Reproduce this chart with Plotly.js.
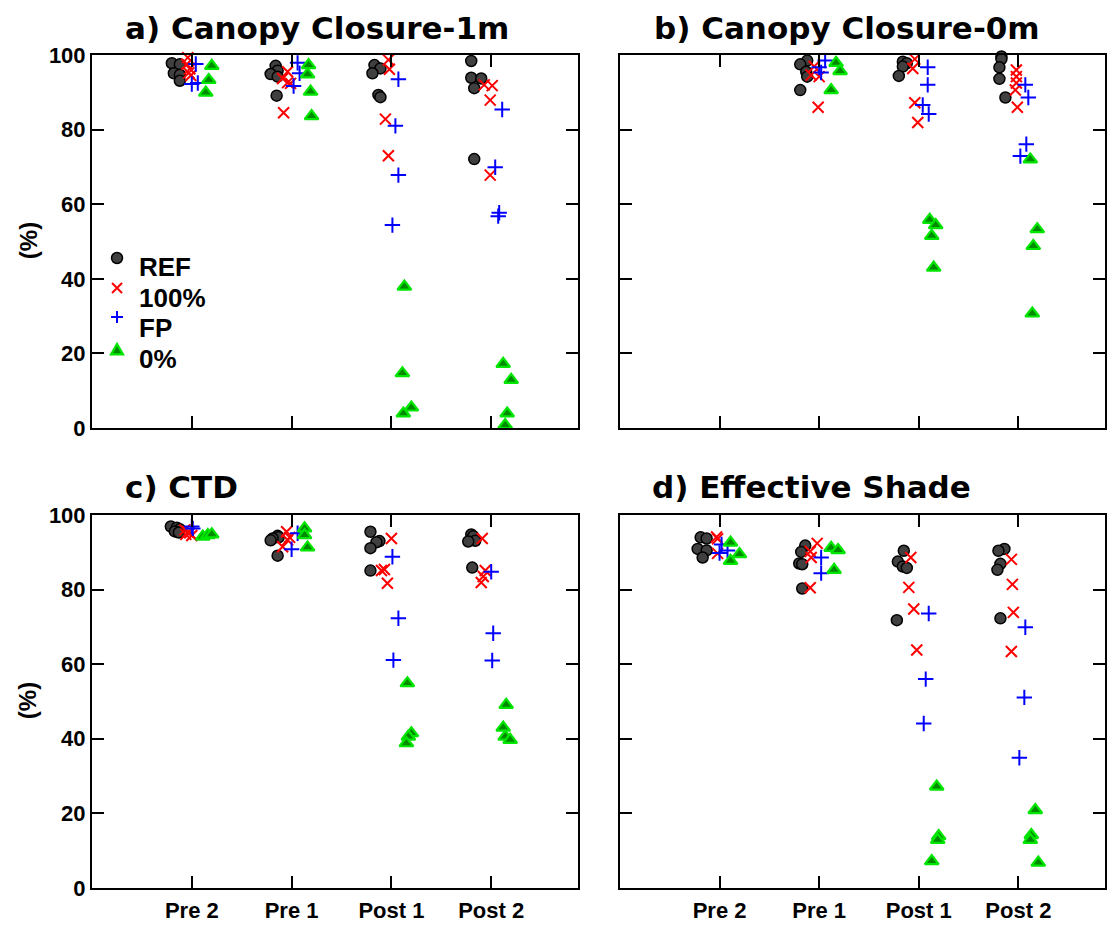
<!DOCTYPE html>
<html>
<head>
<meta charset="utf-8">
<script src="https://cdn.plot.ly/plotly-3.0.1.min.js"></script>
<style>html,body{margin:0;padding:0;background:#fff;}#chart{width:1114px;height:925px;}</style>
</head>
<body>
<div id="chart"></div>
<script>
// ---------- data ----------
const categories = ["Pre 2", "Pre 1", "Post 1", "Post 2"];
const groupNames = ["REF", "100%", "FP", "0%"];
const panelTitles = ["a) Canopy Closure-1m", "b) Canopy Closure-0m", "c) CTD", "d) Effective Shade"];
const yTickVals = [0, 20, 40, 60, 80, 100];

// Panel a) Canopy Closure-1m : one sub-array per category
const aRefVal = [[97.8,97.5,95.1,94.7,93.1],[97.1,95.8,94.9,94.2,89.1],[97.3,96.4,95.1,89.3,88.7],[98.4,93.9,93.7,91.1,72.1]];
const aRefDx  = [[-0.20,-0.12,-0.18,-0.12,-0.12],[-0.16,-0.14,-0.21,-0.14,-0.15],[-0.17,-0.11,-0.19,-0.13,-0.11],[-0.20,-0.20,-0.10,-0.17,-0.17]];
const a100Val = [[99.3,97.5,96.3,95.2,94.5],[95.5,93.7,92.6,92.4,84.5],[98.7,96.2,82.8,73.0],[92.0,91.8,87.9,67.8]];
const a100Dx  = [[-0.04,-0.05,-0.02,-0.03,-0.01],[-0.04,-0.09,-0.04,-0.01,-0.08],[-0.03,-0.02,-0.06,-0.03],[-0.07,0.01,-0.01,-0.01]];
const aFPVal  = [[97.6,92.2,92.5],[97.9,95.1,91.7],[93.5,81.0,67.8,54.4],[85.4,69.9,57.7,56.8]];
const aFPDx   = [[0.04,0.0,0.06],[0.06,0.08,0.02],[0.07,0.04,0.07,0.01],[0.11,0.04,0.08,0.07]];
const a0Val   = [[97.1,93.3,89.9],[97.3,94.8,90.2,83.6],[37.9,14.7,5.5,3.9],[17.2,12.9,3.9,0.8]];
const a0Dx    = [[0.20,0.17,0.14],[0.17,0.16,0.19,0.20],[0.13,0.11,0.20,0.12],[0.12,0.20,0.16,0.14]];

// Panel b) Canopy Closure-0m
const bRefVal = [[],[98.5,97.5,95.5,94.2,90.6],[98.2,97.8,96.9,94.4],[99.6,98.9,96.7,93.6,88.6]];
const bRefDx  = [[],[-0.12,-0.19,-0.13,-0.12,-0.19],[-0.16,-0.12,-0.16,-0.20],[-0.17,-0.17,-0.19,-0.19,-0.13]];
const b100Val = [[],[96.9,94.6,94.2,86.0],[98.9,96.4,87.2,81.9],[96.0,94.2,92.5,90.6,86.0]];
const b100Dx  = [[],[-0.05,-0.08,0.0,-0.01],[-0.04,-0.06,-0.04,-0.01],[-0.02,-0.02,-0.02,-0.03,-0.01]];
const bFPVal  = [[],[98.5,96.7,95.3],[96.7,92.0,86.6,84.2],[92.0,88.6,76.1,72.9]];
const bFPDx   = [[],[0.06,0.0,0.02],[0.09,0.09,0.04,0.10],[0.07,0.10,0.08,0.02]];
const b0Val   = [[],[97.9,95.7,90.6],[55.8,54.4,51.5,43.0],[72.0,53.3,48.8,30.7]];
const b0Dx    = [[],[0.17,0.21,0.12],[0.11,0.17,0.13,0.15],[0.12,0.19,0.15,0.14]];

// Panel c) CTD
const cRefVal = [[96.9,96.6,96.2,95.6,95.3],[94.4,94.0,93.7,93.2,89.1],[95.5,93.0,92.7,91.1,85.1],[94.8,94.3,93.1,92.9,85.9]];
const cRefDx  = [[-0.21,-0.15,-0.12,-0.17,-0.13],[-0.14,-0.13,-0.19,-0.21,-0.14],[-0.21,-0.12,-0.15,-0.21,-0.21],[-0.20,-0.18,-0.16,-0.23,-0.19]];
const c100Val = [[96.0,95.5,95.2,94.8,94.5],[95.5,94.0,93.3,91.5],[93.7,85.4,85.1,81.7],[93.7,85.1,83.5,81.9]];
const c100Dx  = [[-0.07,-0.04,-0.02,-0.06,0.0],[-0.05,-0.02,-0.04,-0.09],[0.0,-0.07,-0.10,-0.04],[-0.09,-0.06,-0.08,-0.10]];
const cFPVal  = [[96.9,96.4],[95.1,90.8],[88.8,72.3,61.1],[84.8,68.3,61.0]];
const cFPDx   = [[0.0,0.01],[0.06,0.0],[0.01,0.07,0.02],[0.0,0.02,0.01]];
const c0Val   = [[94.2,94.6,94.8],[96.4,94.6,91.3],[54.9,41.5,40.6,38.8],[49.1,43.0,40.6,39.7]];
const c0Dx    = [[0.11,0.16,0.20],[0.13,0.13,0.16],[0.16,0.20,0.17,0.15],[0.15,0.12,0.14,0.19]];

// Panel d) Effective Shade
const dRefVal = [[94.0,93.7,90.9,90.5,88.6],[91.8,90.1,87.0,86.8,80.3],[90.4,87.5,86.2,85.8,71.8],[90.9,90.4,86.9,85.3,72.3]];
const dRefDx  = [[-0.19,-0.13,-0.22,-0.13,-0.17],[-0.14,-0.18,-0.20,-0.17,-0.17],[-0.15,-0.21,-0.16,-0.12,-0.22],[-0.14,-0.20,-0.18,-0.21,-0.18]];
const d100Val = [[94.1,93.6,89.7],[92.4,90.2,88.6,80.5],[88.6,80.6,74.8,63.8],[88.1,81.4,73.9,63.4]];
const d100Dx  = [[-0.03,-0.02,-0.02],[-0.02,-0.09,-0.08,-0.09],[-0.08,-0.10,-0.05,-0.02],[-0.07,-0.06,-0.05,-0.07]];
const dFPVal  = [[92.1,90.5,89.8],[88.6,84.4],[73.6,56.0,44.1],[69.9,51.1,34.9]];
const dFPDx   = [[0.02,0.08,0.0],[0.02,0.02],[0.10,0.07,0.05],[0.07,0.06,0.01]];
const d0Val   = [[92.6,89.5,87.7],[91.2,90.6,85.3],[27.2,13.9,12.9,7.2],[20.9,14.2,12.9,6.8]];
const d0Dx    = [[0.11,0.20,0.11],[0.12,0.19,0.15],[0.18,0.20,0.19,0.13],[0.17,0.13,0.12,0.20]];

// ---------- styles ----------
const FONT = "Liberation Sans, Arial, Helvetica, sans-serif";
const TITLE_FONT = "DejaVu Sans, Liberation Sans, Arial, sans-serif";
const markerStyles = [
  {symbol: "circle", size: 11, color: "#404040", line: {color: "#000000", width: 1.5}},
  {symbol: "x-thin-open", size: 11, color: "#ff0000", line: {color: "#ff0000", width: 2}},
  {symbol: "cross-thin-open", size: 11, color: "#0000ff", line: {color: "#0000ff", width: 2}},
  {symbol: "triangle-up", size: 12, color: "#008a00", line: {color: "#00e600", width: 2.2}}
];

const panels = [
  {vals: [aRefVal, a100Val, aFPVal, a0Val], dxs: [aRefDx, a100Dx, aFPDx, a0Dx], xa: "x",  ya: "y"},
  {vals: [bRefVal, b100Val, bFPVal, b0Val], dxs: [bRefDx, b100Dx, bFPDx, b0Dx], xa: "x2", ya: "y2"},
  {vals: [cRefVal, c100Val, cFPVal, c0Val], dxs: [cRefDx, c100Dx, cFPDx, c0Dx], xa: "x3", ya: "y3"},
  {vals: [dRefVal, d100Val, dFPVal, d0Val], dxs: [dRefDx, d100Dx, dFPDx, d0Dx], xa: "x4", ya: "y4"}
];

const traces = [];
panels.forEach((p, pi) => {
  groupNames.forEach((g, gi) => {
    const xs = [], ys = [];
    p.vals[gi].forEach((arr, ci) => {
      arr.forEach((v, k) => { xs.push(ci + 1 + p.dxs[gi][ci][k]); ys.push(v); });
    });
    traces.push({
      type: "scatter", mode: "markers", name: g,
      x: xs, y: ys, xaxis: p.xa, yaxis: p.ya,
      marker: markerStyles[gi], showlegend: false, cliponaxis: false,
      hoverinfo: "x+y"
    });
  });
});

const xDomL = [0, 0.4798], xDomR = [0.5212, 1];
const yDomT = [0.5522, 1], yDomB = [0, 0.4478];

function xAxis(domain, anchor, showLabels) {
  return {
    domain: domain, anchor: anchor, range: [0, 4.87],
    tickvals: [1, 2, 3, 4], ticktext: categories, showticklabels: showLabels,
    tickfont: {family: FONT, size: 22, color: "#000", weight: "bold"},
    ticks: "inside", ticklen: 12, tickwidth: 2, tickcolor: "#000",
    showline: true, linecolor: "#000", linewidth: 2, mirror: "ticks",
    showgrid: false, zeroline: false, fixedrange: true, ticklabelstandoff: 2
  };
}
function yAxis(domain, anchor, showLabels) {
  return {
    domain: domain, anchor: anchor, range: [0, 100],
    tickvals: yTickVals, showticklabels: showLabels,
    tickfont: {family: FONT, size: 22, color: "#000", weight: "bold"},
    ticks: "inside", ticklen: 12, tickwidth: 2, tickcolor: "#000",
    showline: true, linecolor: "#000", linewidth: 2, mirror: "ticks",
    showgrid: false, zeroline: false, fixedrange: true
  };
}

const titleFont = {family: TITLE_FONT, size: 31, color: "#000", weight: "bold"};
const annotations = [
  {text: panelTitles[0], x: 0.0306, y: 1.0324},
  {text: panelTitles[1], x: 0.5528, y: 1.0324},
  {text: panelTitles[2], x: 0.0306, y: 0.4814},
  {text: panelTitles[3], x: 0.5508, y: 0.4814}
].map(a => Object.assign(a, {xref: "paper", yref: "paper", xanchor: "left", yanchor: "middle", showarrow: false, font: titleFont}));
[0.7767, 0.2245].forEach(yy => annotations.push({
  text: "(%)", xref: "paper", yref: "paper", x: -0.063, y: yy, xanchor: "center", yanchor: "middle",
  textangle: -90, showarrow: false, font: {family: FONT, size: 24, color: "#000", weight: "bold"}
}));

// ---------- legend (inside panel a), drawn as shapes + text ----------
const legMarkX = 0.0247, legTextX = 0.0444;
const legMarkY = [0.7563, 0.7203, 0.6855, 0.6459];
const legTextY = [0.7455, 0.7083, 0.6723, 0.6351];
groupNames.forEach((g, gi) => annotations.push({
  text: g, xref: "paper", yref: "paper", x: legTextX, y: legTextY[gi], xanchor: "left", yanchor: "middle",
  showarrow: false, font: {family: FONT, size: 26, color: "#000", weight: "bold"}
}));
const pix = {xref: "paper", yref: "paper", xsizemode: "pixel", ysizemode: "pixel", xanchor: legMarkX};
const shapes = [
  Object.assign({}, pix, {type: "circle", yanchor: legMarkY[0], x0: -5.5, x1: 5.5, y0: -5.5, y1: 5.5,
    fillcolor: "#404040", line: {color: "#000", width: 1.5}}),
  Object.assign({}, pix, {type: "path", yanchor: legMarkY[1], path: "M-5,-5L5,5M-5,5L5,-5",
    line: {color: "#ff0000", width: 2}}),
  Object.assign({}, pix, {type: "path", yanchor: legMarkY[2], path: "M-6,0L6,0M0,-6L0,6",
    line: {color: "#0000ff", width: 2}}),
  Object.assign({}, pix, {type: "path", yanchor: legMarkY[3], path: "M-6,-4.5L6,-4.5L0,6Z",
    fillcolor: "#008a00", line: {color: "#00e600", width: 2.2}})
];

const layout = {
  width: 1114, height: 925,
  margin: {l: 92, r: 9, t: 55, b: 37},
  paper_bgcolor: "#fff", plot_bgcolor: "#fff",
  font: {family: FONT, color: "#000"},
  xaxis: xAxis(xDomL, "y", false),
  yaxis: yAxis(yDomT, "x", true),
  xaxis2: xAxis(xDomR, "y2", false),
  yaxis2: yAxis(yDomT, "x2", false),
  xaxis3: xAxis(xDomL, "y3", true),
  yaxis3: yAxis(yDomB, "x3", true),
  xaxis4: xAxis(xDomR, "y4", true),
  yaxis4: yAxis(yDomB, "x4", false),
  showlegend: false,
  annotations: annotations,
  shapes: shapes
};

Plotly.newPlot("chart", traces, layout, {staticPlot: true, displayModeBar: false});
</script>
</body>
</html>
